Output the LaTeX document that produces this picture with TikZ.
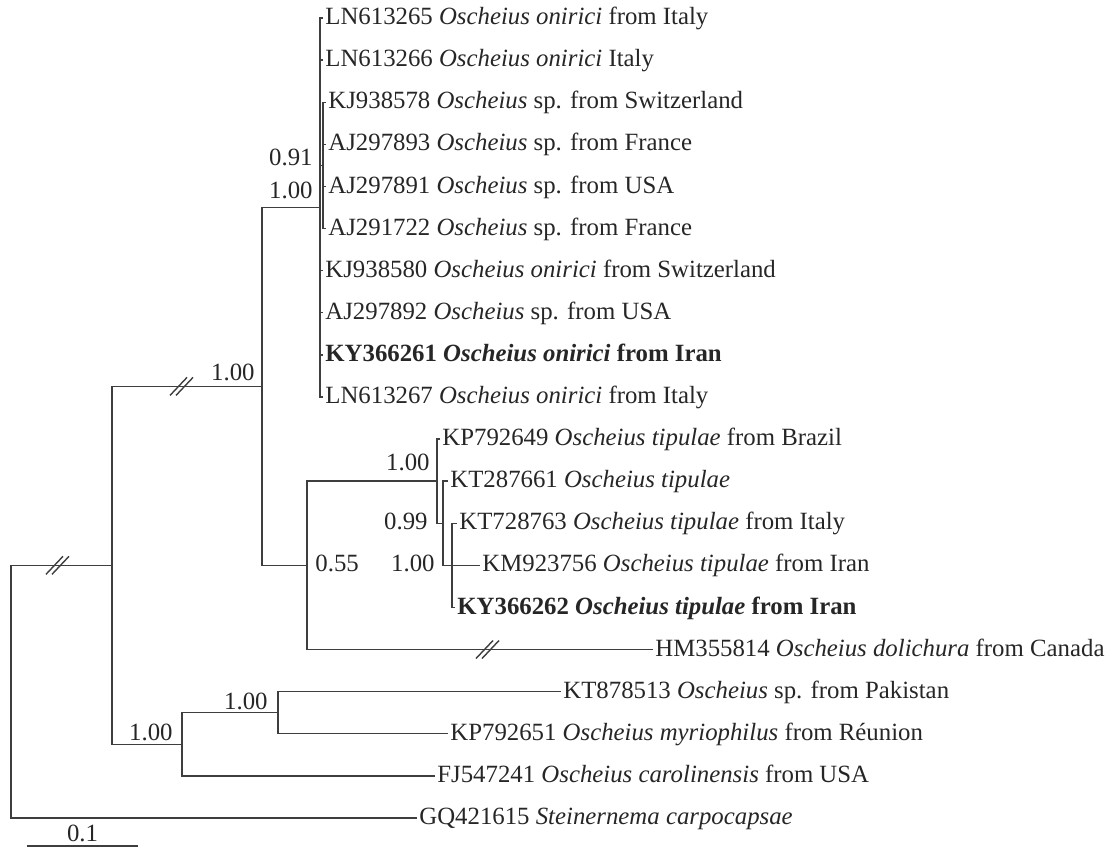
\documentclass[tikz,border=0pt]{standalone}
\usepackage{fontspec}
\setmainfont{Liberation Serif}
\usetikzlibrary{positioning}
\definecolor{TreeGray}{RGB}{62,62,62}
\definecolor{LabelGray}{RGB}{38,38,38}
\tikzset{
  branch/.style={draw=TreeGray, line width=0.7pt},
  leaf/.style={anchor=west, inner sep=1pt, text height=0.66em, text depth=0pt,
    text=LabelGray, font=\fontsize{12.4}{14}\selectfont},
  support/.style={inner sep=1pt, text height=0.66em, text depth=0pt,
    text=LabelGray, font=\fontsize{12.4}{14}\selectfont},
  brk/.pic={\draw[branch] (-11,9) -- (6,-9);
            \draw[branch] (-5,9) -- (12,-9);},
}

\begin{document}
\begin{tikzpicture}[x=0.5pt, y=-0.5pt]
  \useasboundingbox (0,0) rectangle (1117,847);

  % leaves
  \node[leaf] (l0)  at (323,18)    {LN613265 \textit{Oscheius onirici} from Italy};
  \node[leaf] (l1)  at (323,60.1)  {LN613266 \textit{Oscheius onirici} Italy};
  \node[leaf] (l2)  at (326,102.2) {KJ938578 \textit{Oscheius} sp. from Switzerland};
  \node[leaf] (l3)  at (326,144.3) {AJ297893 \textit{Oscheius} sp. from France};
  \node[leaf] (l4)  at (326,186.4) {AJ297891 \textit{Oscheius} sp. from USA};
  \node[leaf] (l5)  at (326,228.5) {AJ291722 \textit{Oscheius} sp. from France};
  \node[leaf] (l6)  at (323,270.6) {KJ938580 \textit{Oscheius onirici} from Switzerland};
  \node[leaf] (l7)  at (323,312.7) {AJ297892 \textit{Oscheius} sp. from USA};
  \node[leaf] (l8)  at (323,354.8) {\textbf{KY366261 \textit{Oscheius onirici} from Iran}};
  \node[leaf] (l9)  at (323,396.9) {LN613267 \textit{Oscheius onirici} from Italy};
  \node[leaf] (l10) at (440,439)   {KP792649 \textit{Oscheius tipulae} from Brazil};
  \node[leaf] (l11) at (448,481.1) {KT287661 \textit{Oscheius tipulae}};
  \node[leaf] (l12) at (457,523.2) {KT728763 \textit{Oscheius tipulae} from Italy};
  \node[leaf] (l13) at (480,565.3) {KM923756 \textit{Oscheius tipulae} from Iran};
  \node[leaf] (l14) at (455,607.4) {\textbf{KY366262 \textit{Oscheius tipulae} from Iran}};
  \node[leaf] (l15) at (653,649.5) {HM355814 \textit{Oscheius dolichura} from Canada};
  \node[leaf] (l16) at (561,691.6) {KT878513 \textit{Oscheius} sp. from Pakistan};
  \node[leaf] (l17) at (448,733.7) {KP792651 \textit{Oscheius myriophilus} from Réunion};
  \node[leaf] (l18) at (435,775.8) {FJ547241 \textit{Oscheius carolinensis} from USA};
  \node[leaf] (l19) at (417,817.9) {GQ421615 \textit{Steinernema carpocapsae}};

  % inner nodes
  \coordinate (nOn2)  at (323,165.35);
  \coordinate (nOn)   at (320,207.45);
  \coordinate (nT3)   at (452,565.3);
  \coordinate (nT2)   at (443,523.2);
  \coordinate (nT1)   at (437,481.1);
  \coordinate (nTp)   at (307,565.3);
  \coordinate (nA)    at (262,386.4);
  \coordinate (nC)    at (278,712.65);
  \coordinate (nB)    at (182,744.2);
  \coordinate (nI)    at (112,565.3);
  \coordinate (nRoot) at (11,691.6);

  % branches
  \draw[branch] (l0.west) -| (nOn) |- (l9.west);
  \foreach \k in {1,6,7,8} \draw[branch] (nOn) |- (l\k.west);
  \draw[branch] (nOn) |- (nOn2);
  \draw[branch] (l2.west) -| (nOn2) |- (l5.west);
  \foreach \k in {3,4} \draw[branch] (nOn2) |- (l\k.west);
  \draw[branch] (l12.west) -| (nT3) |- (l14.west);
  \draw[branch] (nT3) -- (l13.west);
  \draw[branch] (l11.west) -| (nT2) |- (nT3);
  \draw[branch] (l10.west) -| (nT1) |- (nT2);
  \draw[branch] (nT1) -| (nTp) |- (l15.west);
  \draw[branch] (nOn) -| (nA) |- (nTp);
  \draw[branch] (l16.west) -| (nC) |- (l17.west);
  \draw[branch] (nC) -| (nB) |- (l18.west);
  \draw[branch] (nA) -| (nI) |- (nB);
  \draw[branch] (nI) -| (nRoot) |- (l19.west);

  % breaks
  \pic at (181,386.4) {brk};
  \pic at (57,565.3) {brk};
  \pic at (487,649.5) {brk};

  % support values
  \node[support, anchor=base east] (s1) at ([xshift=-4pt]nOn2) {0.91};
  \node[support, anchor=base east] (s2) at ([xshift=-2.5pt,yshift=4.5pt]nOn) {1.00};
  \node[support, anchor=base east] (s3) at ([xshift=-2.5pt,yshift=3pt]nA) {1.00};
  \node[support, anchor=west] (s4) at ([xshift=3pt]nTp) {0.55};
  \node[support, anchor=base east] (s5) at ([xshift=-2.5pt,yshift=5.5pt]nT1) {1.00};
  \node[support, anchor=east] (s6) at ([xshift=-6.5pt]nT2) {0.99};
  \node[support, anchor=east] (s7) at ([xshift=-7.5pt]nT3) {1.00};
  \node[support, anchor=base east] (s8) at ([xshift=-4pt,yshift=1.5pt]nC) {1.00};
  \node[support, anchor=base east] (s9) at ([xshift=-3.5pt,yshift=2pt]nB) {1.00};

  % scale bar
  \coordinate (sL) at (27,846);
  \coordinate (sR) at (138,846);
  \draw[branch] (sL) -- node[support, above=1pt] {0.1} (sR);
\end{tikzpicture}
\end{document}
